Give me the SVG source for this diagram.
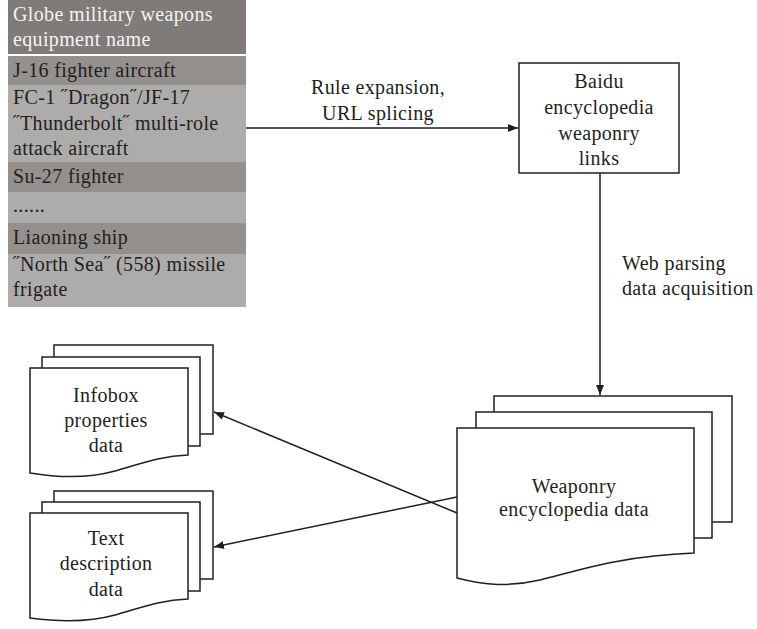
<svg xmlns="http://www.w3.org/2000/svg" width="757" height="629" viewBox="0 0 757 629">
<style>
text{font-family:"Liberation Serif","DejaVu Serif",serif;font-size:20px;letter-spacing:0.35px;fill:#231f20}
.h{fill:#f4f4f4}
.c{text-anchor:middle}
.doc{fill:#fff;stroke:#231f20;stroke-width:1.5}
.ln{fill:none;stroke:#231f20;stroke-width:1.5}
</style>
<defs>
<marker id="ah" viewBox="0 0 10 10" refX="10" refY="5" markerWidth="10" markerHeight="10" markerUnits="userSpaceOnUse" orient="auto">
<path d="M0,1 L10,5 L0,9 Z" fill="#231f20"/>
</marker>
</defs>
<g id="table">
<rect x="8" y="0" width="238" height="54" fill="#7f7b79"/>
<rect x="8" y="56" width="238" height="29" fill="#93908e"/>
<rect x="8" y="85" width="238" height="77" fill="#adacab"/>
<rect x="8" y="162" width="238" height="30" fill="#93908e"/>
<rect x="8" y="192" width="238" height="31" fill="#adacab"/>
<rect x="8" y="223" width="238" height="31" fill="#93908e"/>
<rect x="8" y="254" width="238" height="53" fill="#adacab"/>
<text class="h" x="13" y="21">Globe military weapons</text>
<text class="h" x="13" y="46">equipment name</text>
<text x="13" y="77">J-16 fighter aircraft</text>
<text x="13" y="104">FC-1 ˝Dragon˝/JF-17</text>
<text x="13" y="130">˝Thunderbolt˝ multi-role</text>
<text x="13" y="155">attack aircraft</text>
<text x="13" y="183">Su-27 fighter</text>
<text x="13" y="212">......</text>
<text x="13" y="244">Liaoning ship</text>
<text x="13" y="271">˝North Sea˝ (558) missile</text>
<text x="13" y="296">frigate</text>
</g>
<g id="baidu">
<rect x="519" y="63" width="160" height="110" class="doc"/>
<text class="c" x="599" y="88">Baidu</text>
<text class="c" x="599" y="114">encyclopedia</text>
<text class="c" x="599" y="140">weaponry</text>
<text class="c" x="599" y="165">links</text>
</g>
<g id="weaponry">
<rect x="494" y="396" width="238" height="126" class="doc"/>
<rect x="476" y="412" width="236" height="126" class="doc"/>
<path class="doc" d="M457,428 H694 V553 C620,556 580,570 540,580 C505,588 480,584 457,578 Z"/>
<text class="c" x="574" y="493">Weaponry</text>
<text class="c" x="574" y="516">encyclopedia data</text>
</g>
<g id="infobox">
<rect x="54" y="345" width="159" height="89" class="doc"/>
<rect x="42" y="357" width="158" height="89" class="doc"/>
<path class="doc" d="M30,368 H188 V455 C160,456 140,464 115,471 C90,478 60,478 30,473 Z"/>
<text class="c" x="106" y="402">Infobox</text>
<text class="c" x="106" y="427">properties</text>
<text class="c" x="106" y="452">data</text>
</g>
<g id="textdesc">
<rect x="54" y="491" width="159" height="88" class="doc"/>
<rect x="42" y="502" width="158" height="89" class="doc"/>
<path class="doc" d="M30,513 H188 V599 C160,600 140,608 115,615 C90,622 60,622 30,618 Z"/>
<text class="c" x="106" y="545">Text</text>
<text class="c" x="106" y="570">description</text>
<text class="c" x="106" y="596">data</text>
</g>
<g id="connectors">
<line class="ln" x1="246" y1="128" x2="518" y2="128" marker-end="url(#ah)"/>
<text class="c" x="378" y="94">Rule expansion,</text>
<text class="c" x="378" y="120">URL splicing</text>
<line class="ln" x1="600" y1="173" x2="600" y2="395" marker-end="url(#ah)"/>
<text x="622" y="270">Web parsing</text>
<text x="622" y="295">data acquisition</text>
<line class="ln" x1="457" y1="513" x2="214" y2="412" marker-end="url(#ah)"/>
<line class="ln" x1="457" y1="497" x2="214" y2="547" marker-end="url(#ah)"/>
</g>
</svg>
